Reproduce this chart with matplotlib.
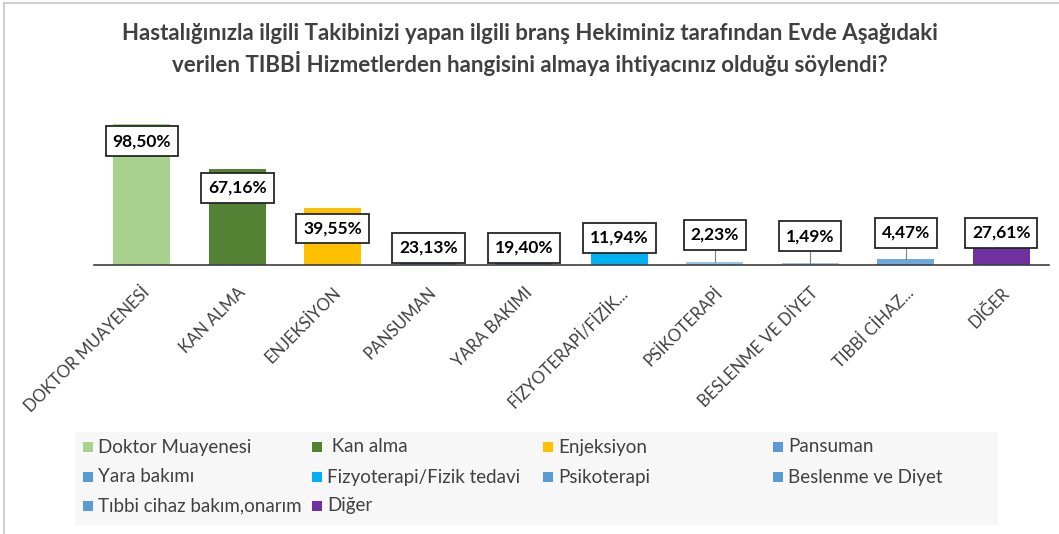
import matplotlib.pyplot as plt
from matplotlib.patches import Rectangle

categories = ["DOKTOR MUAYENESİ", "KAN ALMA", "ENJEKSİYON", "PANSUMAN", "YARA BAKIMI",
              "FİZYOTERAPİ/FİZİK...", "PSİKOTERAPİ", "BESLENME VE DİYET", "TIBBİ CİHAZ...", "DİĞER"]
legend_names = ["Doktor Muayenesi", " Kan alma", "Enjeksiyon", "Pansuman",
                "Yara bakımı", "Fizyoterapi/Fizik tedavi", "Psikoterapi", "Beslenme ve Diyet",
                "Tıbbi cihaz bakım,onarım", "Diğer"]
values = [98.50, 67.16, 39.55, 23.13, 19.40, 11.94, 2.23, 1.49, 4.47, 27.61]
bar_colors = ["#a9d18e", "#548235", "#ffc000", "#5a7fb5", "#5a7fb5",
              "#00b0f0", "#9dc3e6", "#9dc3e6", "#6fa8dc", "#7030a0"]
legend_colors = ["#a9d18e", "#548235", "#ffc000", "#5b9bd5", "#5b9bd5",
                 "#00b0f0", "#5b9bd5", "#5b9bd5", "#5b9bd5", "#7030a0"]
# where the data label boxes sit (percent units), as in the original
label_y = [86.5, 54, 25.5, 12, 12, 19, 21, 20, 22.5, 22.5]

plt.rcParams['font.family'] = ['Lato', 'DejaVu Sans']

fig = plt.figure(figsize=(10.59, 5.34), dpi=100)
fig.patches.append(Rectangle((0.004, -0.01), 1.0, 1.005, transform=fig.transFigure,
                             fill=False, edgecolor="#d0d0d0", linewidth=1.5))

ax = fig.add_axes([94 / 1059, 1 - 265 / 534, 955 / 1059, 143 / 534])
x = range(len(values))
ax.bar(x, values, width=0.6, color=bar_colors, zorder=2)
ax.set_xlim(-0.5, len(values) - 0.5)
ax.set_ylim(0, 100)
ax.set_yticks([])
for s in ["top", "right", "left"]:
    ax.spines[s].set_visible(False)
ax.spines["bottom"].set_color("#404040")
ax.spines["bottom"].set_linewidth(1.2)
ax.spines["bottom"].set_zorder(3)
ax.tick_params(axis="x", length=0, pad=14)
ax.set_xticks(list(x))
ax.set_xticklabels(categories, rotation=45, ha="right", rotation_mode="anchor",
                   fontsize=12, color="#404040")

for i, (v, ly) in enumerate(zip(values, label_y)):
    if ly > v:
        ax.plot([i, i], [v, ly - 9], color="#7f7f7f", linewidth=0.8, zorder=3)
    ax.text(i, ly, f"{v:.2f}%".replace(".", ","), ha="center", va="center",
            fontsize=12.5, fontweight="bold", color="black", zorder=4,
            bbox=dict(boxstyle="square,pad=0.4", facecolor="white",
                      edgecolor="#262626", linewidth=1.3))

fig.text(0.5, 1 - 33 / 534, "Hastalığınızla ilgili Takibinizi yapan ilgili branş Hekiminiz tarafından Evde Aşağıdaki",
         ha="center", va="center", fontsize=16, fontweight="bold", color="#404040")
fig.text(0.5, 1 - 63 / 534, "verilen TIBBİ Hizmetlerden hangisini almaya ihtiyacınız olduğu söylendi?",
         ha="center", va="center", fontsize=16, fontweight="bold", color="#404040")

# legend, laid out in equal columns like the original
fig.patches.append(Rectangle((75 / 1059, 1 - 525 / 534), 923 / 1059, 93 / 534,
                             transform=fig.transFigure, facecolor="#f7f7f7",
                             edgecolor="none", zorder=0))
col_x = [83, 312, 543, 773]
row_y = [447, 477, 506]
for k, (name, c) in enumerate(zip(legend_names, legend_colors)):
    cx = col_x[k % 4]
    cy = row_y[k // 4]
    fig.patches.append(Rectangle((cx / 1059, 1 - (cy + 5) / 534), 10 / 1059, 10 / 534,
                                 transform=fig.transFigure, facecolor=c, edgecolor="none"))
    fig.text((cx + 15) / 1059, 1 - cy / 534, name, ha="left", va="center",
             fontsize=13.5, color="#404040")

fig.savefig("out.png", dpi=100)
